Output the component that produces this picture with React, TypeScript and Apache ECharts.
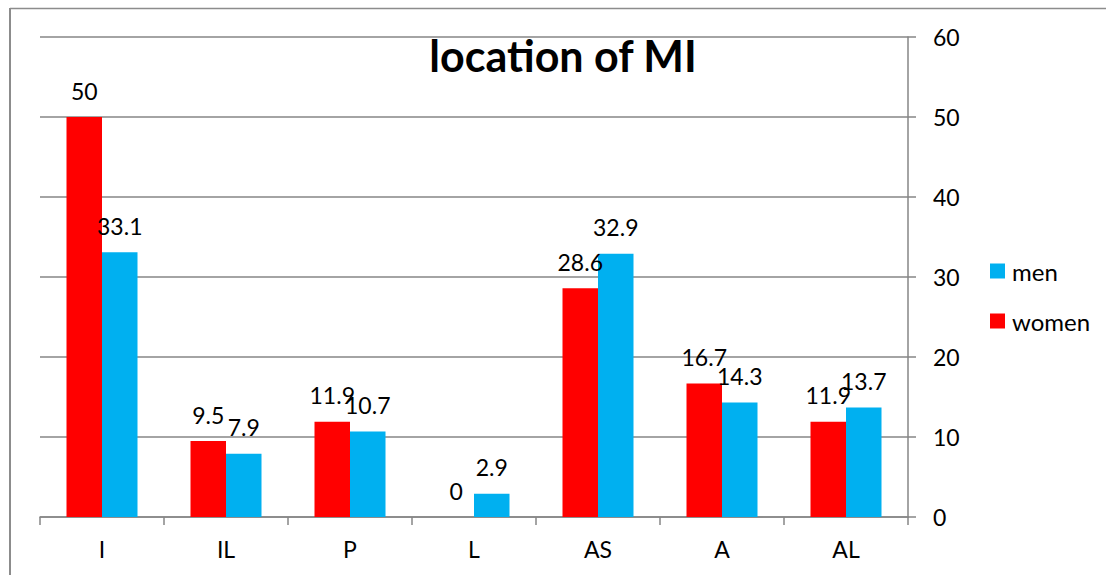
import React, { useEffect, useRef } from "react";
import * as echarts from "echarts";

const categories = ["I", "IL", "P", "L", "AS", "A", "AL"];
const womenValues = [50, 9.5, 11.9, 0, 28.6, 16.7, 11.9];
const menValues = [33.1, 7.9, 10.7, 2.9, 32.9, 14.3, 13.7];
const yTicks = { min: 0, max: 60, interval: 10 };
const titleText = "location of MI";

const FONT = "Lato";
const GRAY = "#868686";

export default function App() {
  const ref = useRef<HTMLDivElement>(null);
  useEffect(() => {
    if (!ref.current) return;
    const chart = echarts.init(ref.current, null, { renderer: "svg" });
    const labelCfg = {
      show: true,
      position: "top",
      distance: 15,
      fontSize: 23,
      color: "#000",
      fontFamily: FONT,
    };
    chart.setOption({
      animation: false,
      backgroundColor: "#fff",
      textStyle: { fontFamily: FONT },
      grid: { left: 40, right: 198, top: 37, bottom: 58, containLabel: false },
      legend: {
        orient: "vertical",
        left: 985,
        top: 254,
        itemWidth: 15,
        itemHeight: 15,
        itemGap: 26,
        icon: "rect",
        data: ["men", "women"],
        textStyle: { fontSize: 24, color: "#000", fontFamily: FONT, padding: [0, 0, 0, 2] },
      },
      xAxis: {
        type: "category",
        data: categories,
        boundaryGap: true,
        axisLine: { show: true, lineStyle: { color: GRAY, width: 1.5 } },
        axisTick: { show: true, interval: 0, length: 8, lineStyle: { color: GRAY, width: 1.5 } },
        axisLabel: { fontSize: 23, color: "#000", margin: 20, fontFamily: FONT, interval: 0 },
        splitLine: { show: false },
      },
      yAxis: {
        type: "value",
        position: "right",
        min: yTicks.min,
        max: yTicks.max,
        interval: yTicks.interval,
        axisLine: { show: true, lineStyle: { color: GRAY, width: 1.5 } },
        axisTick: { show: true, length: 8, lineStyle: { color: GRAY, width: 1.5 } },
        axisLabel: { fontSize: 23, color: "#000", margin: 25, fontFamily: FONT },
        splitLine: { show: true, lineStyle: { color: GRAY, width: 1.5 } },
      },
      series: [
        {
          name: "women",
          type: "bar",
          data: womenValues,
          barWidth: 35.5,
          barGap: "0%",
          itemStyle: { color: "#FF0000" },
          label: labelCfg,
        },
        {
          name: "men",
          type: "bar",
          data: menValues,
          barWidth: 35.5,
          barGap: "0%",
          itemStyle: { color: "#00B0F0" },
          label: labelCfg,
        },
      ],
      graphic: [
        {
          type: "line",
          shape: { x1: 10, y1: 8.5, x2: 1106, y2: 8.5 },
          style: { stroke: "#8c8c8c", lineWidth: 1.5 },
        },
        {
          type: "line",
          shape: { x1: 10, y1: 8, x2: 10, y2: 575 },
          style: { stroke: "#8c8c8c", lineWidth: 2 },
        },
        {
          type: "text",
          x: 563,
          y: 55,
          style: {
            text: titleText,
            textAlign: "center",
            textVerticalAlign: "middle",
            fontSize: 43,
            fontWeight: "bold",
            fontFamily: FONT,
            fill: "#000",
          },
        },
      ],
    });
    return () => chart.dispose();
  }, []);
  return (
    <div
      ref={ref}
      style={{ position: "fixed", left: 0, top: 0, width: 1106, height: 575 }}
    />
  );
}
